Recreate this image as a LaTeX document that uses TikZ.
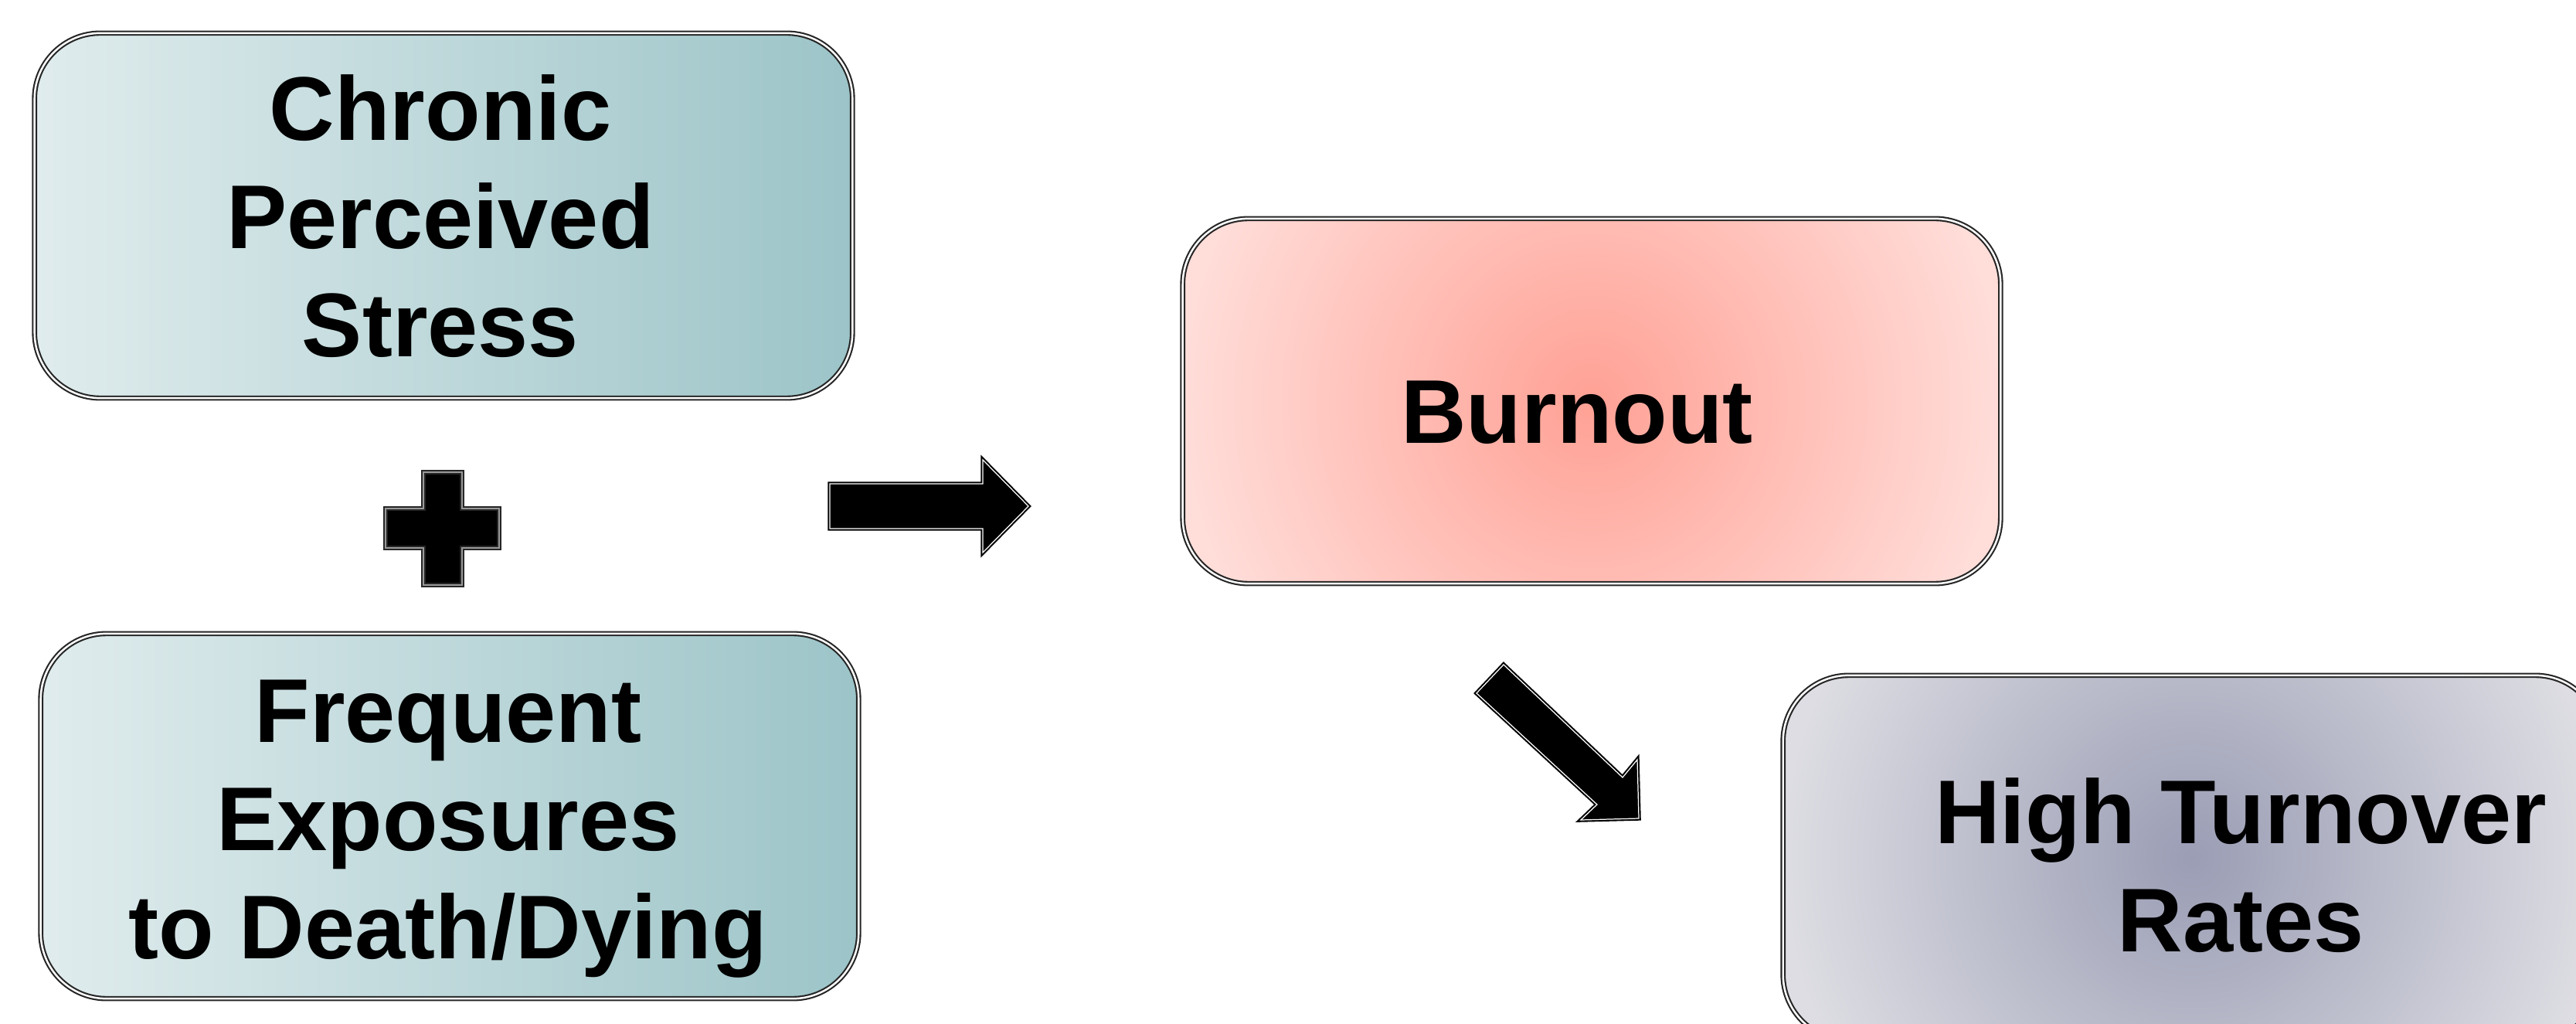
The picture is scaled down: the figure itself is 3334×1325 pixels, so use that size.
\documentclass[tikz,border=0pt]{standalone}
\usepackage{fontspec}
\setmainfont{Liberation Sans}
\definecolor{tealL}{HTML}{E0ECED}
\definecolor{tealR}{HTML}{9CC4C8}
\definecolor{burnC}{HTML}{FFA195}
\definecolor{burnE}{HTML}{FFDDD9}
\definecolor{htC}{HTML}{9A9DB4}
\definecolor{htE}{HTML}{DDDDE3}
\tikzset{
  roundbox/.style={rectangle, rounded corners=0.85cm, minimum width=10.58cm, minimum height=4.72cm, inner sep=0pt, draw=black!85, double=white, line width=0.6pt, double distance=0.7pt},
  tealbox/.style={roundbox, left color=tealL, right color=tealR},
  radbox/.style 2 args={path picture={\shade[inner color=#1, outer color=#2]
      ([shift={(-5.3cm,-5.3cm)}]path picture bounding box.center) rectangle
      ([shift={(5.3cm,5.3cm)}]path picture bounding box.center);}},
  boxtext/.style={font=\fontsize{33.3pt}{39.8pt}\selectfont\bfseries, align=center, text depth=0pt, inner sep=0pt},
  blockarrow/.style={fill=black, draw=black, double=white, line width=0.6pt, double distance=0.35pt, line join=miter},
  plusshape/.style={fill=black, draw=black!85, double=black!40, line width=0.5pt, double distance=0.6pt, line join=miter},
}
\begin{document}
\begin{tikzpicture}[x=0.01cm, y=-0.01cm]
\useasboundingbox (0,0) rectangle (3334,1325);
\clip (0,0) rectangle (3334,1325);
\fill[white] (0,0) rectangle (3334,1325);

% boxes
\node[tealbox] (stress) at (574,279) {};
\node[tealbox] (death) at (582,1056) {};
\node[roundbox, radbox={burnC}{burnE}] (burnout) at (2060,519) {};
\node[roundbox, radbox={htC}{htE}] (turnover) at (2837,1110) {};

% texts
\node[boxtext] (stresstext) at ([shift={(-4,0)}]stress.center) {Chronic\\Perceived\\Stress};
\node[boxtext] (deathtext) at ([shift={(-2,4)}]death.center) {Frequent\\Exposures\\to Death/Dying};
\node[boxtext] (burnouttext) at ([shift={(-19,14)}]burnout.center) {Burnout};
\node[boxtext] (turnovertext) at ([shift={(63,9)}]turnover.center) {High Turnover\\Rates};

% plus sign
\draw[plusshape] (548,611) -- (598,611) -- (598,658) -- (646,658) -- (646,709) -- (598,709)
  -- (598,757) -- (548,757) -- (548,709) -- (499,709) -- (499,658) -- (548,658) -- cycle;

% right block arrow
\draw[blockarrow] (1074,626) -- (1272,626) -- (1272,595) -- (1331,655) -- (1272,715)
  -- (1272,684) -- (1074,684) -- cycle;

% diagonal block arrow
\draw[blockarrow] (1946,860) -- (2100,1006) -- (2119,983) -- (2121,1059) -- (2046,1061)
  -- (2067,1041) -- (1911,897) -- cycle;
\end{tikzpicture}
\end{document}
